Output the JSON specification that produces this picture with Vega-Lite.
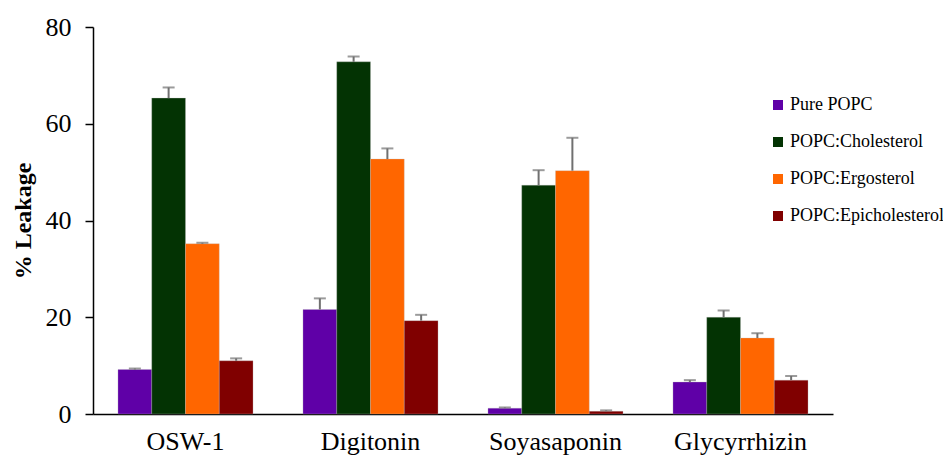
{
  "$schema": "https://vega.github.io/schema/vega-lite/v6.json",
  "width": 740,
  "height": 387,
  "autosize": {"type": "none"},
  "padding": {"left": 93, "top": 27, "right": 110, "bottom": 43},
  "background": "white",
  "config": {"view": {"stroke": null}, "font": "Liberation Serif, Times New Roman, serif"},
  "data": {"values": [
    {"drug": "OSW-1", "membrane": "Pure POPC", "leak": 9.2, "upper": 9.4},
    {"drug": "OSW-1", "membrane": "POPC:Cholesterol", "leak": 65.3, "upper": 67.5},
    {"drug": "OSW-1", "membrane": "POPC:Ergosterol", "leak": 35.2, "upper": 35.4},
    {"drug": "OSW-1", "membrane": "POPC:Epicholesterol", "leak": 11.0, "upper": 11.5},
    {"drug": "Digitonin", "membrane": "Pure POPC", "leak": 21.6, "upper": 23.9},
    {"drug": "Digitonin", "membrane": "POPC:Cholesterol", "leak": 72.8, "upper": 73.9},
    {"drug": "Digitonin", "membrane": "POPC:Ergosterol", "leak": 52.7, "upper": 54.9},
    {"drug": "Digitonin", "membrane": "POPC:Epicholesterol", "leak": 19.3, "upper": 20.5},
    {"drug": "Soyasaponin", "membrane": "Pure POPC", "leak": 1.2, "upper": 1.35},
    {"drug": "Soyasaponin", "membrane": "POPC:Cholesterol", "leak": 47.3, "upper": 50.4},
    {"drug": "Soyasaponin", "membrane": "POPC:Ergosterol", "leak": 50.3, "upper": 57.1},
    {"drug": "Soyasaponin", "membrane": "POPC:Epicholesterol", "leak": 0.55, "upper": 0.75},
    {"drug": "Glycyrrhizin", "membrane": "Pure POPC", "leak": 6.6, "upper": 7.0},
    {"drug": "Glycyrrhizin", "membrane": "POPC:Cholesterol", "leak": 20.0, "upper": 21.4},
    {"drug": "Glycyrrhizin", "membrane": "POPC:Ergosterol", "leak": 15.7, "upper": 16.7},
    {"drug": "Glycyrrhizin", "membrane": "POPC:Epicholesterol", "leak": 7.0, "upper": 7.85}
  ]},
  "encoding": {
    "x": {
      "field": "drug", "type": "nominal",
      "sort": ["OSW-1", "Digitonin", "Soyasaponin", "Glycyrrhizin"],
      "scale": {"paddingInner": 0.27, "paddingOuter": 0.135},
      "axis": {"title": null, "labelAngle": 0, "ticks": false, "grid": false,
               "domainColor": "black", "domainWidth": 1.5,
               "labelFont": "Liberation Serif, Times New Roman, serif", "labelFontSize": 26, "labelColor": "black",
               "labelPadding": 14}
    },
    "xOffset": {
      "field": "membrane", "type": "nominal",
      "sort": ["Pure POPC", "POPC:Cholesterol", "POPC:Ergosterol", "POPC:Epicholesterol"],
      "scale": {"paddingInner": 0, "paddingOuter": 0}
    }
  },
  "layer": [
    {
      "mark": {"type": "bar", "stroke": "#bbbbbb", "strokeWidth": 0.5, "strokeOpacity": 0.6},
      "encoding": {
        "y": {
          "field": "leak", "type": "quantitative",
          "scale": {"domain": [0, 80], "nice": false},
          "axis": {"title": "% Leakage", "values": [0, 20, 40, 60, 80], "grid": false,
                   "domainColor": "black", "domainWidth": 1.5,
                   "tickColor": "black", "tickSize": 8, "tickWidth": 1.5,
                   "labelFont": "Liberation Serif, Times New Roman, serif", "labelFontSize": 26, "labelColor": "black",
                   "labelPadding": 14,
                   "titleFont": "Liberation Serif, Times New Roman, serif", "titleFontSize": 24, "titleFontWeight": "bold",
                   "titleColor": "black", "titlePadding": 10}
        },
        "color": {
          "field": "membrane", "type": "nominal",
          "sort": ["Pure POPC", "POPC:Cholesterol", "POPC:Ergosterol", "POPC:Epicholesterol"],
          "scale": {
            "domain": ["Pure POPC", "POPC:Cholesterol", "POPC:Ergosterol", "POPC:Epicholesterol"],
            "range": ["#5f00a7", "#033303", "#ff6600", "#800000"]
          },
          "legend": {
            "title": null, "orient": "none", "legendX": 676, "legendY": 69,
            "symbolType": "square", "symbolSize": 100, "symbolStrokeWidth": 0,
            "labelFont": "Liberation Serif, Times New Roman, serif", "labelFontSize": 18, "labelColor": "black",
            "labelOffset": 3, "rowPadding": 19
          }
        }
      }
    },
    {
      "mark": {"type": "rule", "color": "#707070", "strokeWidth": 2},
      "encoding": {
        "y": {"field": "leak", "type": "quantitative"},
        "y2": {"field": "upper"}
      }
    },
    {
      "mark": {"type": "tick", "color": "#707070", "thickness": 2, "size": 12},
      "encoding": {
        "y": {"field": "upper", "type": "quantitative"}
      }
    }
  ]
}
